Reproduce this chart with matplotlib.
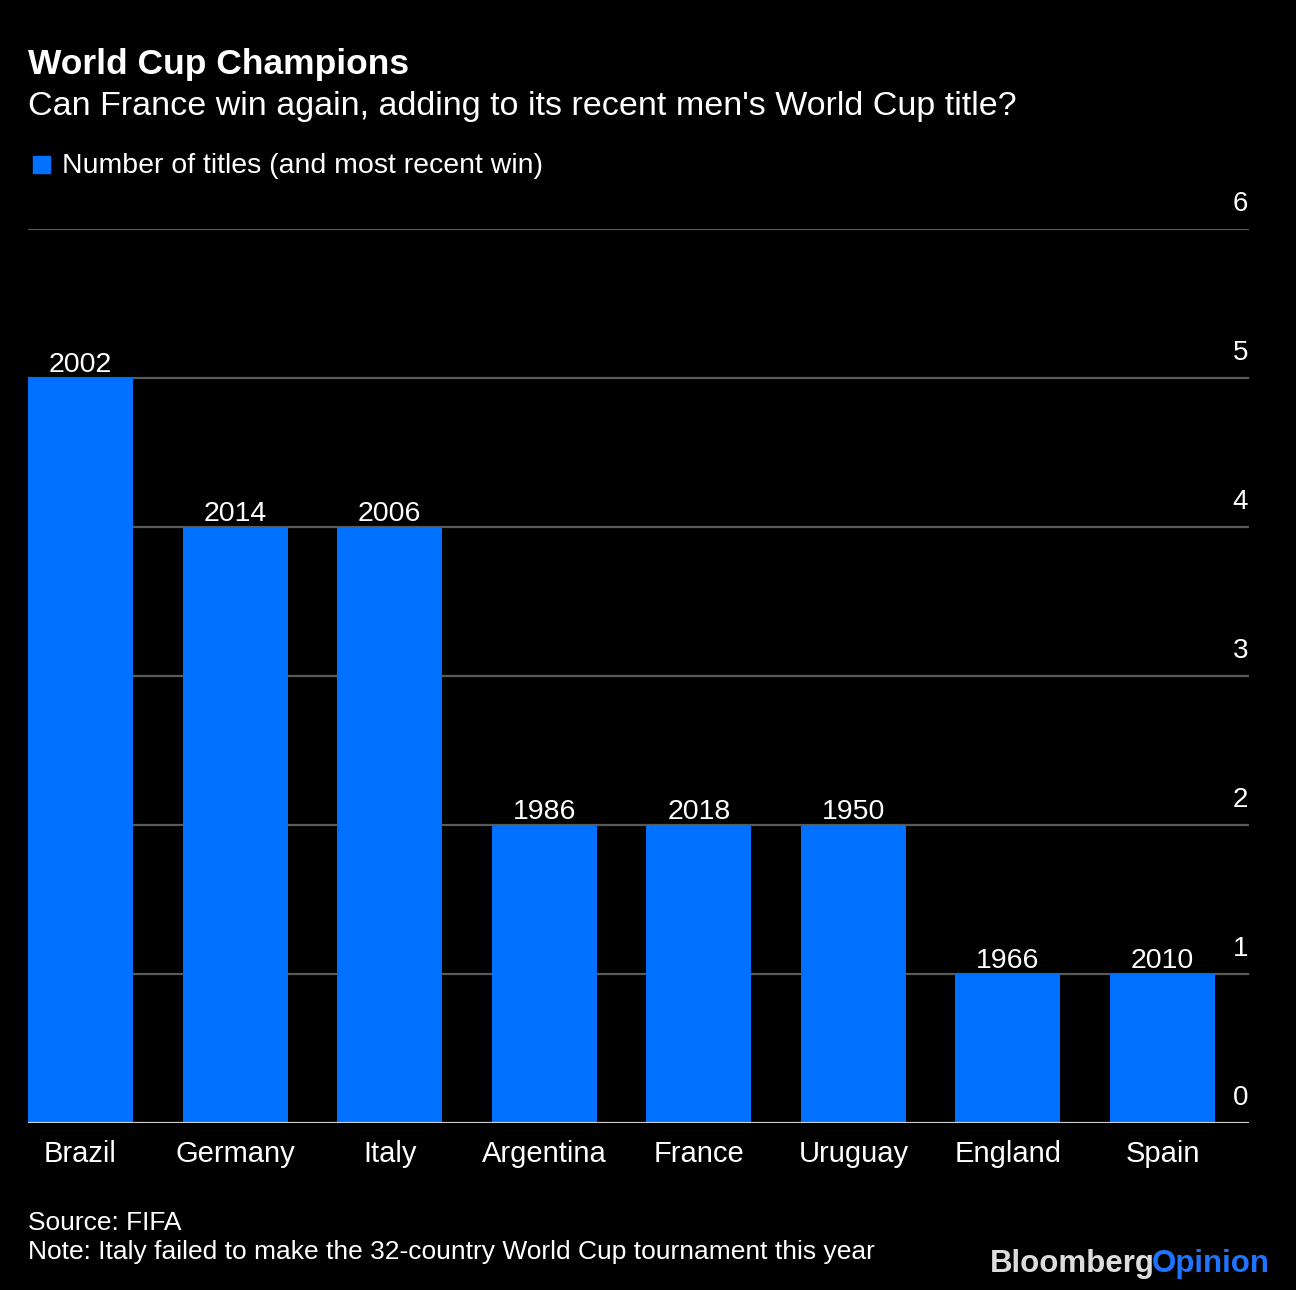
import matplotlib
matplotlib.use("Agg")
import matplotlib.pyplot as plt
from matplotlib.patches import Rectangle
from matplotlib.transforms import offset_copy, blended_transform_factory

countries = ["Brazil", "Germany", "Italy", "Argentina", "France", "Uruguay", "England", "Spain"]
titles = [5, 4, 4, 2, 2, 2, 1, 1]
recent_win = ["2002", "2014", "2006", "1986", "2018", "1950", "1966", "2010"]
yticks = [0, 1, 2, 3, 4, 5, 6]

BLUE = "#0070FF"
FONT = ["Liberation Sans", "DejaVu Sans"]
plt.rcParams["font.family"] = FONT

W, H = 1296, 1290
fig = plt.figure(figsize=(W / 100, H / 100), dpi=100, facecolor="black")

def px(x0, y0, x1, y1):
    return [x0 / W, 1 - y1 / H, (x1 - x0) / W, (y1 - y0) / H]

ax = fig.add_axes(px(28, 229, 1249, 1123))
ax.set_facecolor("black")
xs = list(range(len(countries)))
bars = ax.bar(xs, titles, width=0.68, color=BLUE, zorder=3)
ax.set_xlim(-0.34, 7.56)
ax.set_ylim(0, 6)

for s in ax.spines.values():
    s.set_visible(False)
ax.set_yticks(yticks)
ax.set_yticklabels([])
ax.tick_params(axis="y", length=0)
for y in yticks:
    ax.axhline(y, color="#cfcfcf" if y == 0 else "#5a5a5a", lw=1.6, zorder=4 if y == 0 else 1)

ytr = blended_transform_factory(ax.transAxes, ax.transData)
for y in yticks:
    ax.text(1.0, y, str(y), transform=offset_copy(ytr, fig=fig, x=-1, y=18, units="dots"),
            ha="right", va="baseline", color="white", fontsize=20)

ax.set_xticks(xs)
ax.set_xticklabels(countries, color="white", fontsize=21)
ax.tick_params(axis="x", length=0, pad=12)

for x, v, lab in zip(xs, titles, recent_win):
    ax.annotate(lab, (x, v), xytext=(0, 6), textcoords="offset pixels",
                ha="center", va="baseline", color="white", fontsize=20.5)

# Header
fig.text(28 / W, 1 - 74 / H, "World Cup Champions", color="white", fontsize=25.5,
         fontweight="bold", va="baseline", ha="left")
fig.text(28 / W, 1 - 115 / H, "Can France win again, adding to its recent men's World Cup title?",
         color="white", fontsize=24.5, va="baseline", ha="left")
fig.patches.append(Rectangle((33 / W, 1 - 173 / H), 17 / W, 17 / H, transform=fig.transFigure,
                             color=BLUE, figure=fig))
fig.text(62 / W, 1 - 173 / H, "Number of titles (and most recent win)", color="white",
         fontsize=20.5, va="baseline", ha="left")

# Footer
fig.text(28 / W, 1 - 1230 / H, "Source: FIFA", color="white", fontsize=19, va="baseline")
fig.text(28 / W, 1 - 1259 / H, "Note: Italy failed to make the 32-country World Cup tournament this year",
         color="white", fontsize=19, va="baseline")
t1 = fig.text(990 / W, 1 - 1272 / H, "Bloomberg", color="#dcdcdc", fontsize=22.5,
              fontweight="bold", va="baseline", ha="left")
fig.canvas.draw()
bb = t1.get_window_extent()
fig.text((bb.x1 - 3) / W, 1 - 1272 / H, "Opinion", color="#1f74ff", fontsize=22.5,
         fontweight="bold", va="baseline", ha="left")

fig.savefig("out.png", dpi=100, facecolor="black")
